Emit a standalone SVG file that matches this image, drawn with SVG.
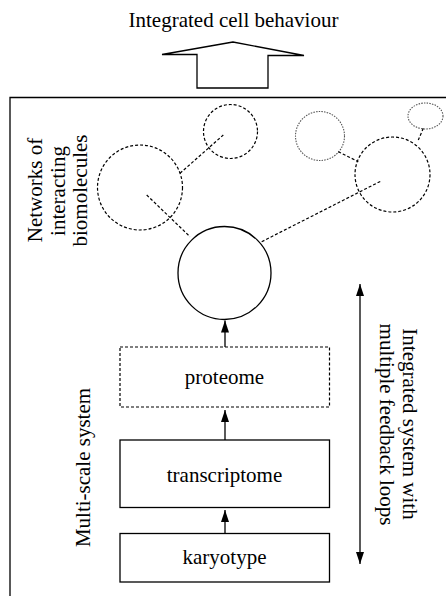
<svg xmlns="http://www.w3.org/2000/svg" width="446" height="596" viewBox="0 0 446 596">
  <defs>
    <marker id="head" viewBox="0 0 12 8" refX="12" refY="4" markerWidth="12" markerHeight="8" markerUnits="userSpaceOnUse" orient="auto-start-reverse">
      <path d="M0,0 L12,4 L0,8 Z" fill="#000"/>
    </marker>
    <style>
      .t { font-family: 'Liberation Serif', 'Times New Roman', 'DejaVu Serif', serif; font-size: 21px; fill: #000; }
      .mid { text-anchor: middle; }
      .solid { fill: none; stroke: #000; stroke-width: 1.3; }
      .dash { fill: none; stroke: #000; stroke-width: 1.2; stroke-dasharray: 3 2; }
      .dot { fill: none; stroke: #555; stroke-width: 1.1; stroke-dasharray: 1.5 1.2; }
      .link { fill: none; stroke: #000; stroke-width: 1.3; }
    </style>
  </defs>

  <rect width="446" height="596" fill="#fff"/>

  <!-- output: integrated cell behaviour -->
  <g id="output">
    <text class="t mid" font-family="Liberation Serif, serif" x="233.5" y="27">Integrated cell behaviour</text>
    <path class="solid" d="M233,42 L162,54.5 L197,54.5 L197,88 L268,88 L268,55.5 L304,55.5 Z"/>
  </g>

  <!-- system frame -->
  <g id="frame">
    <path class="solid" d="M10,596 L10,97.5 L446,97.5"/>
  </g>

  <!-- side labels -->
  <g id="label-networks" class="t mid" font-family="Liberation Serif, serif">
    <text transform="translate(41.5,190) rotate(-90)">Networks of</text>
    <text transform="translate(64.5,191) rotate(-90)">interacting</text>
    <text transform="translate(87,190.5) rotate(-90)">biomolecules</text>
  </g>
  <g id="label-multiscale" class="t mid" font-family="Liberation Serif, serif">
    <text transform="translate(90,467.5) rotate(-90)">Multi-scale system</text>
  </g>
  <g id="label-feedback" class="t mid" font-family="Liberation Serif, serif">
    <text transform="translate(403,424) rotate(90)">Integrated system with</text>
    <text transform="translate(380,424.5) rotate(90)">multiple feedback loops</text>
  </g>

  <!-- biomolecule network -->
  <g id="net-a"><circle class="dash" cx="140" cy="187.5" r="42.5"/></g>
  <g id="net-b"><circle class="dash" cx="230.5" cy="131.5" r="27"/></g>
  <g id="net-c"><circle class="dot" cx="320" cy="136" r="24.5"/></g>
  <g id="net-d"><ellipse class="dot" cx="425.5" cy="116" rx="17.5" ry="13"/></g>
  <g id="net-e"><circle class="dash" cx="392.5" cy="174.5" r="37.5"/></g>
  <g id="hub"><circle class="solid" cx="224.5" cy="273" r="46.5"/></g>

  <!-- omics layers -->
  <g id="proteome">
    <rect class="dash" x="120" y="347" width="209.5" height="60"/>
    <text class="t mid" font-family="Liberation Serif, serif" x="224.5" y="383.5">proteome</text>
  </g>
  <g id="transcriptome">
    <rect class="solid" x="120" y="440" width="209.5" height="67.5"/>
    <text class="t mid" font-family="Liberation Serif, serif" x="224.5" y="481.5">transcriptome</text>
  </g>
  <g id="karyotype">
    <rect class="solid" x="120" y="533.5" width="209.5" height="48.5"/>
    <text class="t mid" font-family="Liberation Serif, serif" x="224.5" y="563.5">karyotype</text>
  </g>

  <!-- connectors -->
  <g id="connectors">
    <line class="dash" x1="180" y1="173.3" x2="223.3" y2="135"/>
    <line class="dash" x1="146.7" y1="195" x2="190" y2="236.7"/>
    <line class="dash" x1="261.7" y1="241.7" x2="381.7" y2="180.7"/>
    <line class="dash" x1="338.3" y1="151.7" x2="358.3" y2="161.7"/>
    <line class="dash" x1="423.3" y1="128.3" x2="418.3" y2="140"/>
    <line class="link" x1="225" y1="347" x2="225" y2="320.5" marker-end="url(#head)"/>
    <line class="link" x1="225" y1="440" x2="225" y2="410" marker-end="url(#head)"/>
    <line class="link" x1="225" y1="533.5" x2="225" y2="510" marker-end="url(#head)"/>
    <line class="link" x1="360" y1="284" x2="360" y2="564" marker-start="url(#head)" marker-end="url(#head)"/>
  </g>
</svg>
